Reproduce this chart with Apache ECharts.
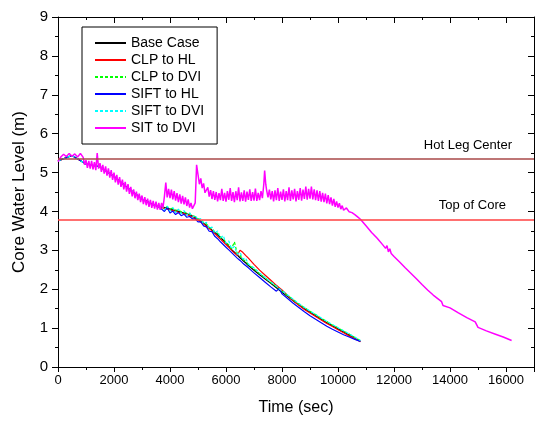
<!DOCTYPE html>
<html>
<head>
<meta charset="utf-8">
<script src="https://cdn.jsdelivr.net/npm/echarts@6/dist/echarts.min.js"></script>
<style>
  html, body { margin: 0; padding: 0; background: #fff; }
  #main { width: 535px; height: 421px; }
</style>
</head>
<body>
<div id="main"></div>
<script>
// reference levels (m)
var hotLegCenter = 5.35
var topOfCore = 3.78

// SIT to DVI, [time (s), level (m)]
var sitToDvi = [
  [0, 5.28], [100, 5.40], [200, 5.47], [300, 5.41], [400, 5.49], [500, 5.42], [600, 5.48], [700, 5.40], [800, 5.49], [900, 5.39],
  [950, 5.20], [1000, 5.32], [1050, 5.12], [1100, 5.30], [1150, 5.10], [1200, 5.30], [1250, 5.08], [1300, 5.27], [1350, 5.06], [1400, 5.50],
  [1450, 5.10], [1500, 5.24], [1550, 5.02], [1600, 5.20], [1650, 4.97], [1700, 5.16], [1750, 4.92], [1800, 5.11], [1850, 4.87], [1900, 5.06],
  [1950, 4.81], [2000, 5.00], [2050, 4.75], [2100, 4.94], [2150, 4.69], [2200, 4.88], [2250, 4.63], [2300, 4.82], [2350, 4.57], [2400, 4.76],
  [2450, 4.51], [2500, 4.70], [2550, 4.45], [2600, 4.63], [2650, 4.39], [2700, 4.57], [2750, 4.34], [2800, 4.51], [2850, 4.29], [2900, 4.46],
  [2950, 4.24], [3000, 4.41], [3050, 4.19], [3100, 4.37], [3150, 4.16], [3200, 4.33], [3250, 4.12], [3300, 4.30], [3350, 4.09], [3400, 4.27],
  [3450, 4.07], [3500, 4.25], [3550, 4.05], [3600, 4.22], [3650, 4.04], [3700, 4.22], [3750, 4.10], [3800, 4.38], [3850, 4.74], [3900, 4.36],
  [3950, 4.58], [4000, 4.34], [4050, 4.56], [4100, 4.31], [4150, 4.52], [4200, 4.28], [4250, 4.47], [4300, 4.24], [4350, 4.44], [4400, 4.20],
  [4450, 4.40], [4500, 4.18], [4550, 4.36], [4600, 4.14], [4650, 4.31], [4700, 4.10], [4750, 4.22], [4800, 4.07], [4850, 4.04], [4900, 4.22],
  [4950, 5.20], [5000, 4.95], [5050, 4.70], [5100, 4.85], [5150, 4.60], [5200, 4.72], [5250, 4.48], [5300, 4.45], [5350, 4.62], [5400, 4.38],
  [5450, 4.55], [5500, 4.32], [5550, 4.52], [5600, 4.30], [5650, 4.50], [5700, 4.26], [5750, 4.47], [5800, 4.29], [5850, 4.58], [5900, 4.27],
  [5950, 4.48], [6000, 4.25], [6050, 4.52], [6100, 4.30], [6150, 4.60], [6200, 4.27], [6250, 4.50], [6300, 4.24], [6350, 4.52], [6400, 4.29],
  [6450, 4.62], [6500, 4.26], [6550, 4.49], [6600, 4.27], [6650, 4.54], [6700, 4.25], [6750, 4.51], [6800, 4.30], [6850, 4.57], [6900, 4.27],
  [6950, 4.50], [7000, 4.28], [7050, 4.59], [7100, 4.27], [7150, 4.48], [7200, 4.29], [7250, 4.52], [7300, 4.34], [7350, 4.70], [7380, 5.05],
  [7420, 4.70], [7450, 4.55], [7500, 4.36], [7550, 4.56], [7600, 4.31], [7650, 4.52], [7700, 4.26], [7750, 4.54], [7800, 4.29], [7850, 4.60],
  [7900, 4.27], [7950, 4.51], [8000, 4.30], [8050, 4.57], [8100, 4.26], [8150, 4.52], [8200, 4.29], [8250, 4.62], [8300, 4.27], [8350, 4.54],
  [8400, 4.31], [8450, 4.58], [8500, 4.26], [8550, 4.52], [8600, 4.30], [8650, 4.60], [8700, 4.28], [8750, 4.56], [8800, 4.32], [8850, 4.64],
  [8900, 4.30], [8950, 4.58], [9000, 4.33], [9050, 4.64], [9100, 4.31], [9150, 4.57], [9200, 4.29], [9250, 4.54], [9300, 4.27], [9350, 4.52],
  [9400, 4.25], [9450, 4.48], [9500, 4.24], [9550, 4.46], [9600, 4.21], [9650, 4.42], [9700, 4.19], [9750, 4.36], [9800, 4.15], [9850, 4.32],
  [9900, 4.12], [9950, 4.26], [10000, 4.10], [10050, 4.21], [10100, 4.06], [10150, 4.15], [10200, 4.03], [10300, 4.09], [10400, 3.99], [10500, 3.97],
  [10600, 3.92], [10700, 3.86], [10800, 3.80], [11000, 3.63], [11200, 3.46], [11400, 3.31], [11600, 3.14], [11700, 3.05], [11750, 3.12], [11800, 2.96],
  [11850, 3.04], [11900, 2.92], [12000, 2.84], [12200, 2.70], [12400, 2.55], [12600, 2.41], [12800, 2.27], [13000, 2.12], [13200, 1.98], [13400, 1.85],
  [13700, 1.68], [13750, 1.58], [13800, 1.61], [14000, 1.52], [14300, 1.39], [14600, 1.27], [14900, 1.16], [14950, 1.13], [15000, 1.02], [15300, 0.93],
  [15600, 0.85], [15900, 0.77], [16200, 0.68]
]

// shared time base for the other five cases
var caseTime = [0, 500, 1000, 1500, 2000, 2500, 3000, 3400, 3600,
  3700, 3800, 3900, 4000, 4100, 4200, 4300, 4400, 4500, 4600, 4700, 4800, 4900, 5000, 5100, 5200, 5300, 5400, 5500, 5600,
  5700, 5800, 5900, 6000, 6100, 6200, 6300, 6400, 6500, 6600, 6700, 6800,
  7000, 7200, 7400, 7600, 7800, 7900, 8000, 8200, 8400, 8600, 8800, 9000, 9200, 9400, 9600, 9800, 10000, 10200, 10400, 10600, 10800]

var baseCase = [5.30, 5.44, 5.22, 5.15, 4.90, 4.60, 4.32, 4.18, 4.12,
  4.12, 4.10, 4.08, 4.06, 4.04, 4.02, 4.00, 3.98, 3.96, 3.94, 3.91, 3.88, 3.84, 3.80, 3.75, 3.70, 3.64, 3.58, 3.52, 3.46,
  3.40, 3.33, 3.26, 3.18, 3.10, 3.02, 2.95, 2.88, 2.81, 2.74, 2.68, 2.61,
  2.49, 2.37, 2.26, 2.15, 2.04, 1.98, 1.92, 1.81, 1.70, 1.60, 1.50, 1.41, 1.32, 1.23, 1.14, 1.06, 0.98, 0.90, 0.82, 0.74, 0.66]

var clpToHl = [5.30, 5.44, 5.22, 5.15, 4.90, 4.60, 4.32, 4.18, 4.12,
  4.10, 4.08, 4.06, 4.04, 4.02, 4.00, 3.98, 3.96, 3.94, 3.92, 3.89, 3.86, 3.82, 3.78, 3.73, 3.68, 3.62, 3.56, 3.50, 3.43,
  3.36, 3.29, 3.22, 3.15, 3.08, 3.00, 2.93, 2.87, 3.00, 2.95, 2.87, 2.80,
  2.64, 2.49, 2.36, 2.23, 2.10, 2.04, 1.98, 1.84, 1.71, 1.59, 1.48, 1.39, 1.30, 1.21, 1.12, 1.04, 0.96, 0.88, 0.80, 0.73, 0.65]

var clpToDvi = [5.30, 5.44, 5.22, 5.15, 4.90, 4.60, 4.32, 4.18, 4.12,
  4.14, 4.10, 4.12, 4.07, 4.08, 4.03, 4.04, 3.99, 3.99, 3.95, 3.94, 3.89, 3.87, 3.81, 3.79, 3.71, 3.68, 3.59, 3.56, 3.47,
  3.44, 3.34, 3.30, 3.20, 3.14, 3.04, 3.22, 2.92, 2.87, 2.77, 2.72, 2.63,
  2.52, 2.40, 2.29, 2.17, 2.07, 2.00, 1.95, 1.84, 1.73, 1.62, 1.53, 1.43, 1.35, 1.25, 1.17, 1.08, 1.01, 0.92, 0.85, 0.76, 0.68]

var siftToHl = [5.30, 5.44, 5.22, 5.15, 4.90, 4.60, 4.32, 4.18, 4.12,
  4.06, 4.00, 4.10, 3.96, 4.01, 3.92, 3.97, 3.89, 3.93, 3.85, 3.87, 3.81, 3.81, 3.73, 3.73, 3.63, 3.60, 3.49, 3.48, 3.36,
  3.30, 3.22, 3.15, 3.08, 3.01, 2.94, 2.87, 2.80, 2.74, 2.67, 2.61, 2.55,
  2.42, 2.30, 2.18, 2.06, 1.95, 2.02, 1.88, 1.76, 1.64, 1.53, 1.42, 1.32, 1.23, 1.14, 1.05, 0.97, 0.90, 0.83, 0.77, 0.71, 0.66]

var siftToDvi = [5.30, 5.44, 5.22, 5.15, 4.90, 4.60, 4.32, 4.18, 4.12,
  4.16, 4.04, 4.14, 4.01, 4.10, 3.97, 4.06, 3.94, 4.02, 3.90, 3.97, 3.85, 3.90, 3.78, 3.82, 3.68, 3.72, 3.56, 3.60, 3.44,
  3.50, 3.32, 3.38, 3.18, 3.24, 3.04, 3.10, 2.90, 2.95, 2.78, 2.80, 2.64,
  2.55, 2.42, 2.30, 2.19, 2.08, 2.01, 1.96, 1.85, 1.74, 1.63, 1.53, 1.44, 1.35, 1.26, 1.17, 1.09, 1.01, 0.93, 0.85, 0.77, 0.68]

function pairs(t, v) {
  return t.map(function (x, i) { return [x, v[i]] })
}

var font = '"Liberation Sans", Arial, sans-serif'
var chart = echarts.init(document.getElementById('main'))

function lineSeries(name, color, data, dashed, width) {
  return {
    name: name,
    type: 'line',
    showSymbol: false,
    symbol: 'none',
    silent: true,
    animation: false,
    lineStyle: { color: color, width: width || 1.2, type: dashed ? [3, 2] : 'solid' },
    itemStyle: { color: color },
    data: data
  }
}

var series = [
  lineSeries('Base Case', '#000000', pairs(caseTime, baseCase)),
  lineSeries('CLP to HL', '#ff0000', pairs(caseTime, clpToHl)),
  lineSeries('CLP to DVI', '#00ff00', pairs(caseTime, clpToDvi), true),
  lineSeries('SIFT to HL', '#0000ff', pairs(caseTime, siftToHl)),
  lineSeries('SIFT to DVI', '#00ffff', pairs(caseTime, siftToDvi), true),
  lineSeries('SIT to DVI', '#ff00ff', sitToDvi, false, 1.5)
]
// horizontal reference lines, hung on the base case series
series[0].markLine = {
  silent: true,
  symbol: 'none',
  animation: false,
  data: [
    { name: 'Hot Leg Center', yAxis: hotLegCenter, lineStyle: { color: '#a84848', width: 1.5, type: 'solid' }, label: { distance: [22, 7] } },
    { name: 'Top of Core', yAxis: topOfCore, lineStyle: { color: '#ff4040', width: 1.5, type: 'solid' }, label: { distance: [28, 8] } }
  ],
  label: {
    show: true,
    position: 'insideEndTop',
    formatter: '{b}',
    color: '#000',
    fontFamily: font,
    fontSize: 13
  }
}

var option = {
  backgroundColor: '#fff',
  animation: false,
  grid: { left: 58, right: 1, top: 17, bottom: 51 },
  legend: {
    orient: 'vertical',
    left: 82,
    top: 27,
    padding: [9, 13, 9, 12],
    borderColor: '#000',
    borderWidth: 1,
    itemWidth: 31,
    itemHeight: 14,
    itemGap: 3,
    selectedMode: false,
    itemStyle: { opacity: 0 },
    textStyle: { color: '#000', fontFamily: font, fontSize: 14, lineHeight: 14 },
    data: ['Base Case', 'CLP to HL', 'CLP to DVI', 'SIFT to HL', 'SIFT to DVI', 'SIT to DVI']
  },
  xAxis: [{
    type: 'value',
    min: 0,
    max: 17000,
    interval: 2000,
    name: 'Time (sec)',
    nameLocation: 'middle',
    nameGap: 33,
    nameTextStyle: { color: '#000', fontFamily: font, fontSize: 16 },
    axisLine: { onZero: false, lineStyle: { color: '#000', width: 1 } },
    axisTick: { length: 5, lineStyle: { color: '#000' } },
    minorTick: { show: true, splitNumber: 2, length: 3, lineStyle: { color: '#000' } },
    axisLabel: {
      color: '#000', fontFamily: font, fontSize: 13, margin: 7, showMaxLabel: false,
      formatter: function (v) { return String(v) }
    },
    splitLine: { show: false }
  }, {
    type: 'value',
    position: 'top',
    min: 0,
    max: 17000,
    interval: 2000,
    axisLine: { onZero: false, lineStyle: { color: '#000', width: 1 } },
    axisTick: { inside: true, length: 6, lineStyle: { color: '#000' } },
    minorTick: { show: true, splitNumber: 2, length: 3, lineStyle: { color: '#000' } },
    axisLabel: { show: false },
    splitLine: { show: false }
  }],
  yAxis: [{
    type: 'value',
    min: 0,
    max: 9,
    interval: 1,
    name: 'Core Water Level (m)',
    nameLocation: 'middle',
    nameGap: 30,
    nameTextStyle: { color: '#000', fontFamily: font, fontSize: 17 },
    axisLine: { onZero: false, lineStyle: { color: '#000', width: 1 } },
    axisTick: { length: 6, lineStyle: { color: '#000' } },
    minorTick: { show: true, splitNumber: 2, length: 3, lineStyle: { color: '#000' } },
    axisLabel: { color: '#000', fontFamily: font, fontSize: 15, margin: 10 },
    splitLine: { show: false }
  }, {
    type: 'value',
    position: 'right',
    min: 0,
    max: 9,
    interval: 1,
    axisLine: { onZero: false, lineStyle: { color: '#000', width: 1 } },
    axisTick: { inside: true, length: 6, lineStyle: { color: '#000' } },
    minorTick: { show: true, splitNumber: 2, length: 3, lineStyle: { color: '#000' } },
    axisLabel: { show: false },
    splitLine: { show: false }
  }],
  series: series
}
chart.setOption(option)
window.addEventListener('resize', function () {
  chart.resize()
})
</script>
</body>
</html>
